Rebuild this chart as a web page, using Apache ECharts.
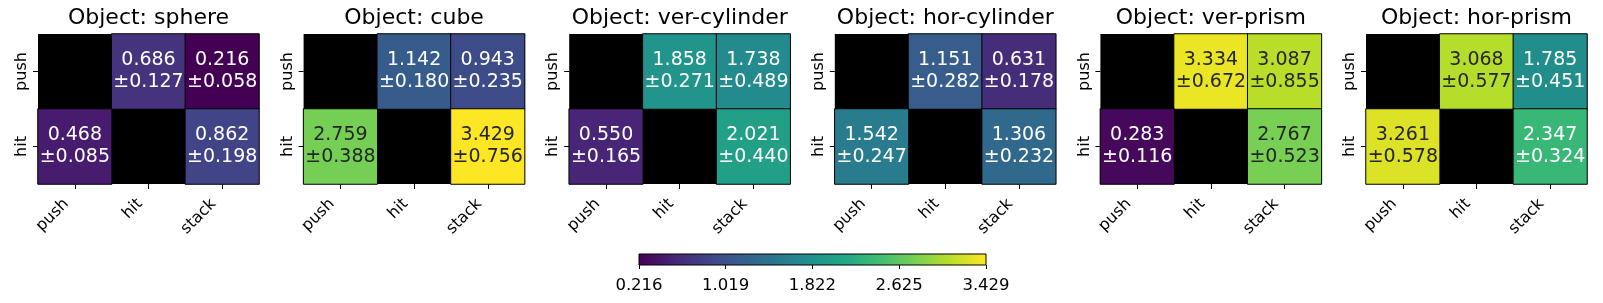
<!DOCTYPE html>
<html><head><meta charset="utf-8">
<script src="https://cdn.jsdelivr.net/npm/echarts@6/dist/echarts.min.js"></script>
<style>html,body{margin:0;padding:0;background:#fff}#c{width:1603px;height:303px}</style>
</head><body><div id="c"></div>
<script>
const objects = ['sphere', 'cube', 'ver-cylinder', 'hor-cylinder', 'ver-prism', 'hor-prism'];
const rowCats = ['push', 'hit'];
const colCats = ['push', 'hit', 'stack'];
// rows: push, hit ; cols: push, hit, stack (null = diagonal)
const sphereMean = [[null, 0.686, 0.216], [0.468, null, 0.862]];
const sphereStd  = [[null, 0.127, 0.058], [0.085, null, 0.198]];
const cubeMean = [[null, 1.142, 0.943], [2.759, null, 3.429]];
const cubeStd  = [[null, 0.180, 0.235], [0.388, null, 0.756]];
const verCylMean = [[null, 1.858, 1.738], [0.550, null, 2.021]];
const verCylStd  = [[null, 0.271, 0.489], [0.165, null, 0.440]];
const horCylMean = [[null, 1.151, 0.631], [1.542, null, 1.306]];
const horCylStd  = [[null, 0.282, 0.178], [0.247, null, 0.232]];
const verPrismMean = [[null, 3.334, 3.087], [0.283, null, 2.767]];
const verPrismStd  = [[null, 0.672, 0.855], [0.116, null, 0.523]];
const horPrismMean = [[null, 3.068, 1.785], [3.261, null, 2.347]];
const horPrismStd  = [[null, 0.577, 0.451], [0.578, null, 0.324]];
const cbTicks = [0.216, 1.019, 1.822, 2.625, 3.429];
const vMin = 0.216, vMax = 3.429;

const means = [sphereMean, cubeMean, verCylMean, horCylMean, verPrismMean, horPrismMean];
const stds = [sphereStd, cubeStd, verCylStd, horCylStd, verPrismStd, horPrismStd];
const viridis = ['#440154','#482475','#414487','#355f8d','#2a788e','#21918c','#22a884','#44bf70','#7ad151','#bddf26','#fde725'];

const FONT = 'DejaVu Sans';
const gridLeft0 = 38, gridStep = 265.6, gridW = 221, gridTop = 34, gridH = 150;

const grids = [], xAxes = [], yAxes = [], series = [], titles = [];
objects.forEach((name, i) => {
  const left = gridLeft0 + i * gridStep;
  grids.push({left: left, top: gridTop, width: gridW, height: gridH, show: true, backgroundColor: '#000', borderWidth: 0, containLabel: false});
  titles.push({text: 'Object: ' + name, left: left + gridW / 2, top: 7, textAlign: 'center', padding: 0,
    textStyle: {fontFamily: FONT, fontSize: 22, fontWeight: 'normal', color: '#000'}});
  xAxes.push({type: 'category', gridIndex: i, data: colCats, position: 'bottom',
    axisLine: {show: false}, axisTick: {show: true, alignWithLabel: true, length: 5, lineStyle: {color: '#000', width: 1}},
    axisLabel: {rotate: 45, margin: 9, padding: [0, 12, 0, 0], fontFamily: FONT, fontSize: 16, color: '#000'}, splitLine: {show: false}});
  yAxes.push({type: 'category', gridIndex: i, data: rowCats, inverse: true,
    axisLine: {show: false}, axisTick: {show: true, alignWithLabel: true, length: 5, lineStyle: {color: '#000', width: 1}},
    axisLabel: {rotate: 90, margin: 8, fontFamily: FONT, fontSize: 16, color: '#000'}, splitLine: {show: false}});
  const data = [];
  means[i].forEach((row, r) => row.forEach((v, c) => {
    if (v === null) return;
    data.push({value: [c, r, v], std: stds[i][r][c],
      label: {color: v > 2.6 ? '#262626' : '#ffffff'}});
  }));
  series.push({type: 'heatmap', xAxisIndex: i, yAxisIndex: i, data: data,
    itemStyle: {borderColor: '#000', borderWidth: 1},
    label: {show: true, fontFamily: FONT, fontSize: 19, lineHeight: 22, align: 'center',
      formatter: p => p.value[2].toFixed(3) + '\n\u00b1' + p.data.std.toFixed(3)},
    emphasis: {disabled: true}});
});

// colorbar grid
const cbIdx = objects.length;
grids.push({left: 639, top: 254, width: 347, height: 11, show: true, borderColor: '#000', borderWidth: 1,
  backgroundColor: {type: 'linear', x: 0, y: 0, x2: 1, y2: 0,
    colorStops: viridis.map((c, k) => ({offset: k / (viridis.length - 1), color: c}))}});
xAxes.push({type: 'value', gridIndex: cbIdx, min: vMin, max: vMax,
  axisLine: {show: false}, splitLine: {show: false},
  axisTick: {show: true, length: 4, customValues: cbTicks, lineStyle: {color: '#000'}},
  axisLabel: {margin: 12, customValues: cbTicks, fontFamily: FONT, fontSize: 16.5, color: '#000',
    formatter: v => v.toFixed(3), showMinLabel: true, showMaxLabel: true}});
yAxes.push({type: 'value', gridIndex: cbIdx, show: false, min: 0, max: 1});

const chart = echarts.init(document.getElementById('c'), null, {renderer: 'canvas'});
chart.setOption({
  animation: false,
  backgroundColor: '#fff',
  title: titles,
  grid: grids, xAxis: xAxes, yAxis: yAxes,
  visualMap: {show: false, type: 'continuous', min: vMin, max: vMax, dimension: 2,
    seriesIndex: objects.map((_, i) => i), inRange: {color: viridis}},
  series: series
});
</script></body></html>
